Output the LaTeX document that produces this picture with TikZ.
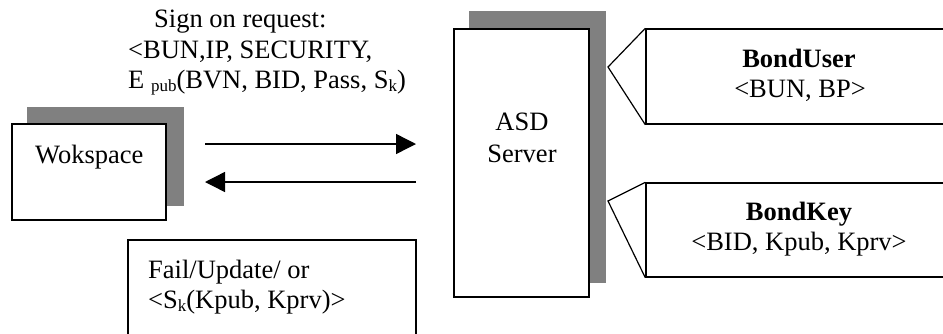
\documentclass[tikz,border=0pt]{standalone}
\usepackage{fontspec}
\setmainfont{Liberation Serif}
\usetikzlibrary{arrows.meta}
\definecolor{shadowgray}{RGB}{128,128,128}
\newcommand\mysub[1]{\raisebox{-3pt}{\fontsize{17}{17}\selectfont #1}}
\begin{document}
\begin{tikzpicture}[x=1pt,y=-1pt,
  font=\fontsize{26.5}{31.8}\selectfont,
  box/.style={draw, line width=1.6pt, fill=white, inner sep=0pt},
  shadowbox/.style={fill=shadowgray, draw=none},
  pointer/.style={draw, line width=1.2pt},
  txt/.style={inner sep=0pt, anchor=base west},
  ctxt/.style={inner sep=0pt, anchor=base},
  msg/.style={line width=1.4pt, -{Triangle[length=20pt,width=20pt]}}]
\clip (0,0) rectangle (943,333);
\fill[white] (0,0) rectangle (943,333);
% workspace
\fill[shadowbox] (27,107) rectangle (184,206);
\node[box, minimum width=154pt, minimum height=96pt] (ws) at (89,172) {};
\node[txt] (wslabel) at (35,163) {Wokspace};
% server
\fill[shadowbox] (469,11) rectangle (606,283);
\node[box, minimum width=135pt, minimum height=268pt] (srv) at (521.5,163) {};
\node[ctxt] (srvA) at (522,130) {ASD};
\node[ctxt] (srvB) at (522,162) {Server};
% request text
\node[txt] (req1) at (154,27) {Sign on request:};
\node[txt] (req2) at (128,58) {<BUN,IP, SECURITY,};
\node[txt] (req3) at (128,88) {E \mysub{pub}(BVN, BID, Pass, S\mysub{k})};
% arrows
\coordinate (a1s) at (205,144);
\coordinate (a1e) at (416,144);
\coordinate (a2s) at (416,182);
\coordinate (a2e) at (205,182);
\draw[msg] (a1s) -- (a1e);
\draw[msg] (a2s) -- (a2e);
% reply box
\node[box, minimum width=288pt, minimum height=120pt] (fail) at (272,300) {};
\node[txt] (fail1) at (148,278) {Fail/Update/ or};
\node[txt] (fail2) at (148,308) {<S\mysub{k}(Kpub, Kprv)>};
% BondUser
\node[box, line width=1.4pt, minimum width=314pt, minimum height=95pt] (bu) at (803,76.5) {};
\coordinate (butip) at (608,67);
\draw[pointer] (bu.north west) -- (butip) -- (bu.south west);
\node[ctxt] (bu1) at (799,67) {\bfseries BondUser};
\node[ctxt] (bu2) at (800,97) {<BUN, BP>};
% BondKey
\node[box, line width=1.4pt, minimum width=314pt, minimum height=94pt] (bk) at (803,230) {};
\coordinate (bktip) at (608,201);
\draw[pointer] (bk.north west) -- (bktip) -- (bk.south west);
\node[ctxt] (bk1) at (799,220) {\bfseries BondKey};
\node[ctxt] (bk2) at (799,250) {<BID, Kpub, Kprv>};
\end{tikzpicture}
\end{document}
